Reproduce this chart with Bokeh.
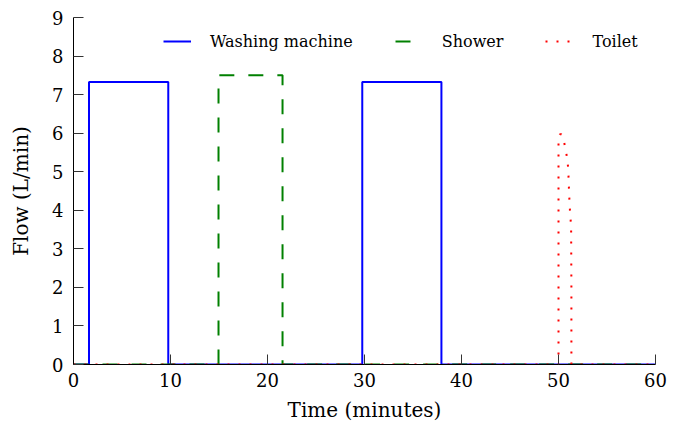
from bokeh.plotting import figure
from bokeh.models import Legend, LegendItem, FixedTicker, Range1d
from bokeh.embed import file_html
from bokeh.resources import INLINE

# Data (minutes, L/min)
time_wash = [0, 1.6, 1.6, 9.77, 9.77, 29.77, 29.77, 37.93, 37.93, 60]
flow_wash = [0, 0, 7.33, 7.33, 0, 0, 7.33, 7.33, 0, 0]

time_shower = [0, 14.95, 14.95, 21.55, 21.55, 60]
flow_shower = [0, 0, 7.5, 7.5, 0, 0]

time_toilet = [0, 50.0, 50.0, 50.15, 50.3, 50.55, 50.8, 51.0, 51.1, 51.2, 51.3, 51.33, 51.33, 60]
flow_toilet = [0, 0, 5.85, 5.97, 5.97, 5.8, 5.5, 5.1, 4.4, 3.9, 3.6, 2.0, 0, 0]

x_ticks = [0, 10, 20, 30, 40, 50, 60]
y_ticks = [0, 1, 2, 3, 4, 5, 6, 7, 8, 9]

FONT = "DejaVu Serif"

p = figure(width=672, height=424, output_backend="svg", toolbar_location=None,
           x_range=Range1d(0, 60), y_range=Range1d(0, 9),
           min_border_left=73, min_border_right=17, min_border_top=17, min_border_bottom=58)
p.outline_line_color = None
p.xgrid.grid_line_color = None
p.ygrid.grid_line_color = None

r1 = p.line(time_wash, flow_wash, line_color="#0000ff", line_width=2)
r2 = p.line(time_shower, flow_shower, line_color="#008000", line_width=2, line_dash="15 14")
r3 = p.line(time_toilet, flow_toilet, line_color="#ff0000", line_width=2, line_dash="2 9")

for ax in (p.xaxis[0], p.yaxis[0]):
    ax.axis_line_color = "black"
    ax.axis_line_width = 1
    ax.major_tick_in = 10
    ax.major_tick_out = 0
    ax.major_tick_line_color = "#333333"
    ax.minor_tick_line_color = None
    ax.major_label_text_font = FONT
    ax.major_label_text_font_size = "18px"
    ax.major_label_text_color = "black"
    ax.axis_label_text_font = FONT
    ax.axis_label_text_font_size = "20px"
    ax.axis_label_text_font_style = "normal"
    ax.axis_label_text_color = "black"

p.xaxis.ticker = FixedTicker(ticks=x_ticks)
p.yaxis.ticker = FixedTicker(ticks=y_ticks)
p.xaxis.axis_label = "Time (minutes)"
p.yaxis.axis_label = "Flow (L/min)"
p.xaxis.major_label_standoff = 8
p.yaxis.major_label_standoff = 10
p.xaxis.axis_label_standoff = 8
p.yaxis.axis_label_standoff = 16

legend = Legend(items=[LegendItem(label="Washing machine", renderers=[r1]),
                       LegendItem(label="Shower", renderers=[r2]),
                       LegendItem(label="Toilet", renderers=[r3])],
                orientation="horizontal", location=(90, 313),
                border_line_alpha=0, background_fill_alpha=0,
                glyph_width=28, glyph_height=20, label_standoff=19, spacing=42,
                padding=0, margin=0,
                label_text_font=FONT, label_text_font_size="16px", label_text_color="black")
p.add_layout(legend)

open("out.html", "w").write(file_html(p, INLINE))
